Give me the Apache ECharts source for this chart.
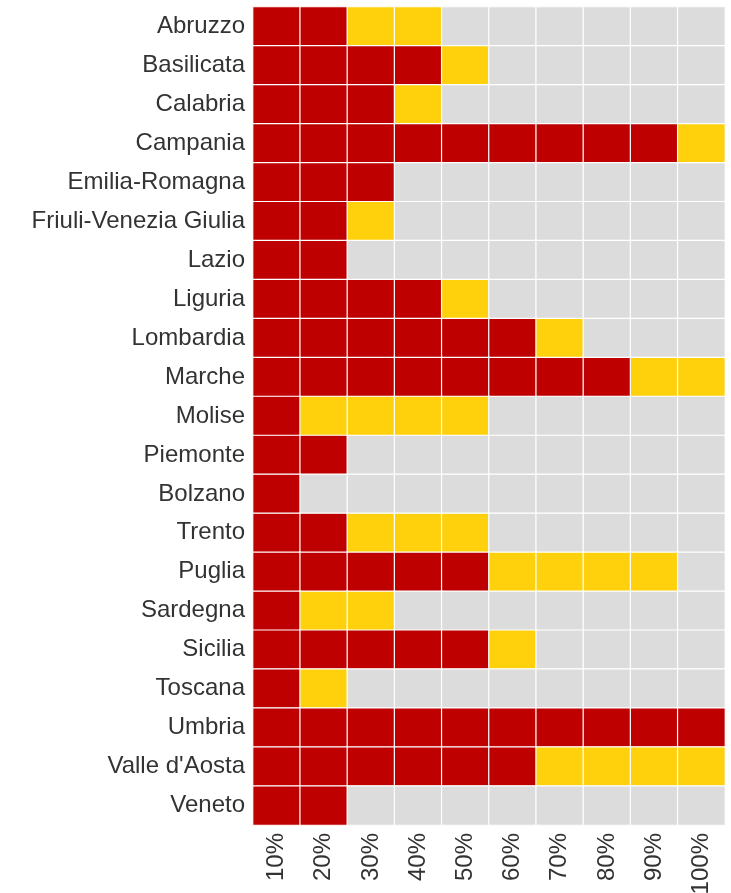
<!DOCTYPE html>
<html>
<head>
<meta charset="utf-8">
<script src="https://cdn.jsdelivr.net/npm/echarts@6/dist/echarts.min.js"></script>
<style>
  html, body { margin: 0; padding: 0; background: #fff; }
  #main { width: 731px; height: 893px; }
</style>
</head>
<body>
<div id="main"></div>
<script>
const regions = ['Abruzzo', 'Basilicata', 'Calabria', 'Campania', 'Emilia-Romagna',
  'Friuli-Venezia Giulia', 'Lazio', 'Liguria', 'Lombardia', 'Marche', 'Molise',
  'Piemonte', 'Bolzano', 'Trento', 'Puglia', 'Sardegna', 'Sicilia', 'Toscana',
  'Umbria', "Valle d'Aosta", 'Veneto'];
const steps = ['10%', '20%', '30%', '40%', '50%', '60%', '70%', '80%', '90%', '100%'];
// number of red cells, then yellow cells, per region
const redCells = [2, 4, 3, 9, 3, 2, 2, 4, 6, 8, 1, 2, 1, 2, 5, 1, 5, 1, 10, 6, 2];
const yellowCells = [2, 1, 1, 1, 0, 1, 0, 1, 1, 2, 4, 0, 0, 3, 4, 2, 1, 1, 0, 4, 0];

// 0 = grey, 1 = red, 2 = yellow
let cells = [];
regions.forEach((r, i) => {
  steps.forEach((s, j) => {
    let v = 0;
    if (j < redCells[i]) v = 1;
    else if (j < redCells[i] + yellowCells[i]) v = 2;
    cells.push([j, i, v]);
  });
});

let myChart = echarts.init(document.getElementById('main'));
let option = {
  animation: false,
  textStyle: { fontFamily: 'Liberation Sans, Arial, sans-serif' },
  grid: { left: 253, right: 6, top: 7, bottom: 68, outerBoundsMode: 'none', containLabel: false },
  xAxis: {
    type: 'category',
    data: steps,
    axisLine: { show: false },
    axisTick: { show: false },
    splitLine: { show: false },
    axisLabel: { rotate: 90, fontSize: 24, color: '#333', margin: 8 }
  },
  yAxis: {
    type: 'category',
    data: regions,
    inverse: true,
    axisLine: { show: false },
    axisTick: { show: false },
    splitLine: { show: false },
    axisLabel: { fontSize: 24, color: '#333', margin: 8 }
  },
  visualMap: {
    show: false,
    type: 'piecewise',
    dimension: 2,
    pieces: [
      { value: 0, color: '#DCDCDC' },
      { value: 1, color: '#BF0000' },
      { value: 2, color: '#FFD10D' }
    ]
  },
  series: [{
    type: 'heatmap',
    data: cells,
    itemStyle: { borderColor: '#fff', borderWidth: 1.2 },
    emphasis: { disabled: true }
  }]
};
option && myChart.setOption(option);
</script>
</body>
</html>
